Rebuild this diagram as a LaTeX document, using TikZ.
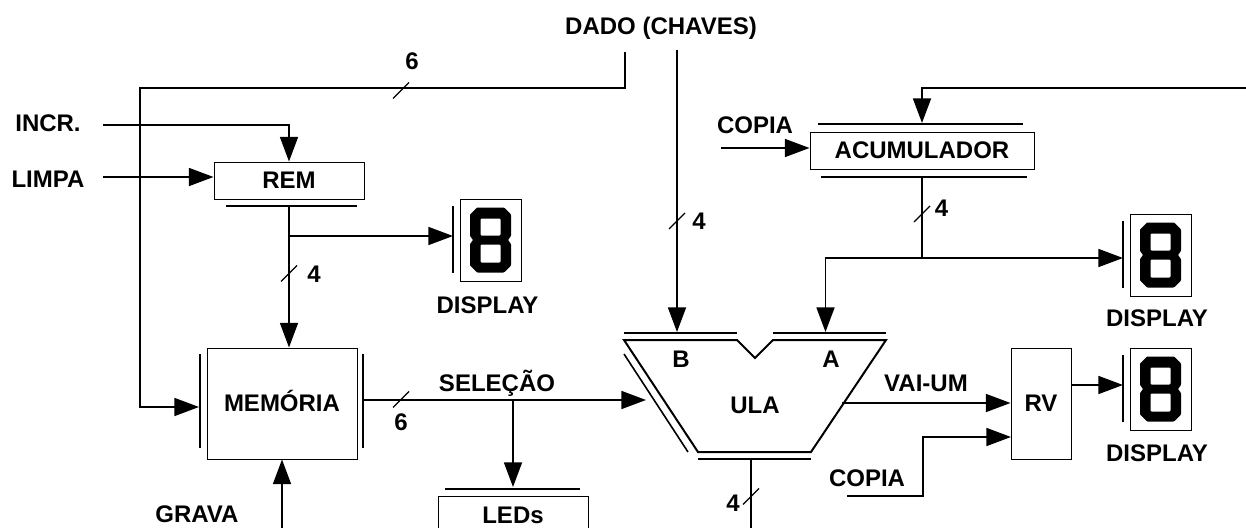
\documentclass[tikz,border=0pt]{standalone}
\usepackage{fontspec}
\setmainfont{Liberation Sans}
\usetikzlibrary{arrows.meta}

\tikzset{
  wh/.style 2 args={minimum width=#1*0.75pt,minimum height=#2*0.75pt},
  blk/.style={draw,line width=0.75pt,inner sep=0pt,font=\fontsize{18}{20}\bfseries\selectfont},
  lbl/.style={inner sep=0pt,font=\fontsize{18}{20}\bfseries\selectfont},
  sig/.style={line width=1.35pt,-{Triangle[length=18.5pt,width=13.5pt]}},
  wire/.style={line width=1.35pt},
  barline/.style={line width=1.5pt},
  tickline/.style={line width=1pt},
}

%display unit: box, bar at its left, digit
\newcommand{\dispunit}[2]{
\begin{scope}[shift={(#2)}]
\node [draw,line width=0.75pt,wh={61}{82}] (#1) at (0,0) {};
\coordinate (#1bar) at (-37.5,0);
\draw [barline] (-37.5,-34) -- (-37.5,33);
\fill [even odd rule,rounded corners=0.6pt] (-13.5,-32.5) -- (13.5,-32.5) -- (20.5,-25.5) -- (20.5,-4) -- (17.5,0) -- (20.5,4) -- (20.5,25.5) -- (13.5,32.5) -- (-13.5,32.5) -- (-20.5,25.5) -- (-20.5,4) -- (-17.5,0) -- (-20.5,-4) -- (-20.5,-25.5) -- cycle
  (-10,-21.5) rectangle (10,-4.5) (-10,4.5) rectangle (10,22.5);
\end{scope}}
\newcommand{\bustick}[1]{\draw [tickline,shift={(#1)}] (-8,8) -- (8,-8);}

\begin{document}
\begin{tikzpicture}[x=0.75pt,y=0.75pt,yscale=-1,xscale=1]
\path [use as bounding box,clip] (0,0) rectangle (1246,528);

% Blocks
\node [blk,wh={150}{37}] (rem) at (289,180.5) {REM};
\node [blk,wh={150}{111},text depth=4pt] (mem) at (282,403.5) {MEMÓRIA};
\node [blk,wh={224}{37}] (acc) at (922,150.5) {ACUMULADOR};
\node [blk,wh={60}{111}] (rv) at (1041,403.5) {RV};
\node [blk,wh={150}{39}] (leds) at (513,515.5) {LEDs};
\dispunit{dispa}{490.5,240}
\dispunit{dispb}{1160.5,255}
\dispunit{dispc}{1160.5,389}

% Register bars
\draw [barline] (226,206) -- (357,206);
\draw [barline] (200,354) -- (200,448);
\draw [barline] (363,354) -- (363,448);
\draw [barline] (818,124) -- (1023,124);
\draw [barline] (821,177) -- (1027,177);
\draw [barline] (445,489) -- (580,489);
\draw [barline] (624,333) -- (737,333);
\draw [barline] (773,333) -- (886,333);
\draw [barline] (698,459) -- (811,459);

% ULA outline
\draw [barline] (624,340) -- (737,340) -- (755,358) -- (773,340) -- (886,340) -- (811,452) -- (698,452) -- cycle;
\draw [line width=1.2pt] (624,354) -- (688,452);

% Text Node
\node [lbl] (dado) at (661,28.5) {DADO (CHAVES)};
\node [lbl] (incr) at (48,123) {INCR.};
\node [lbl] (limpa) at (48,179) {LIMPA};
\node [lbl] (grava) at (197,514) {GRAVA};
\node [lbl] (copiaa) at (755,125) {COPIA};
\node [lbl] (copiab) at (867,478) {COPIA};
\node [lbl] (selecao) at (497,383) {SELEÇÃO};
\node [lbl] (vaium) at (926,383) {VAI-UM};
\node [lbl] (ula) at (755,405) {ULA};
\node [lbl] (ulab) at (681,359) {B};
\node [lbl] (ulaa) at (831,359) {A};
\node [lbl] (labdispa) at (487.5,305) {DISPLAY};
\node [lbl] (labdispb) at (1157,318) {DISPLAY};
\node [lbl] (labdispc) at (1157,453) {DISPLAY};
\node [lbl] (bussa) at (412,61) {6};
\node [lbl] (bussb) at (401,422) {6};
\node [lbl] (fourrem) at (314,274) {4};
\node [lbl] (fourdado) at (699,221) {4};
\node [lbl] (fouracc) at (941.5,208) {4};
\node [lbl] (fourula) at (733,503) {4};

% Free ends and forks
\coordinate (dadoaddr) at (625,52);
\coordinate (dadoop) at (677,50);
\coordinate (busleft) at (140,88);
\coordinate (memin) at (199,407);
\coordinate (incrin) at (103,125);
\coordinate (limpain) at (103,177);
\coordinate (remout) at (289,206);
\coordinate (remfork) at (289,236);
\coordinate (gravain) at (282,528);
\coordinate (memout) at (363,400);
\coordinate (selfork) at (513,400);
\coordinate (ledsin) at (513,487);
\coordinate (ulaleft) at (646,400);
\coordinate (ulabin) at (677,332);
\coordinate (ulaain) at (825.5,332);
\coordinate (accin) at (1246,88);
\coordinate (acctop) at (922,123);
\coordinate (copiaain) at (721,148);
\coordinate (accout) at (922,177);
\coordinate (accfork) at (922,258);
\coordinate (ularight) at (842,403);
\coordinate (ulaout) at (751,459);
\coordinate (ulaend) at (751,528);
\coordinate (copiabin) at (847,496);
\coordinate (copiabup) at (923,496);
\coordinate (rvcopy) at (1011,437);
\coordinate (rvout) at (1071,385);

% Connectors
\draw [sig] (dadoaddr) |- (busleft) |- (memin);
\draw [sig] (dadoop) -- (ulabin);
\draw [sig] (incrin) -| (rem.north);
\draw [sig] (limpain) -- (limpain -| rem.west);
\draw [sig] (remout) -- (remout |- mem.north);
\draw [sig] (remfork) -- (remfork -| dispabar);
\draw [sig] (gravain) -- (mem.south);
\draw [sig] (memout) -- (ulaleft);
\draw [sig] (selfork) -- (ledsin);
\draw [sig] (accin) -| (acctop);
\draw [sig] (copiaain) -- (copiaain -| acc.west);
\draw [wire] (accout) -- (accfork);
\draw [sig] (accfork) -- (accfork -| dispbbar);
\draw [sig] (accfork) -| (ulaain);
\draw [sig] (ularight) -- (ularight -| rv.west);
\draw [sig] (copiabin) -- (copiabup) |- (rvcopy);
\draw [sig] (rvout) -- (rvout -| dispcbar);
\draw [wire] (ulaout) -- (ulaend);

% Bus width marks
\bustick{401,90.5}
\bustick{289,273.5}
\bustick{401,399.5}
\bustick{677,221}
\bustick{922,214}
\bustick{751,496.5}

\end{tikzpicture}
\end{document}
